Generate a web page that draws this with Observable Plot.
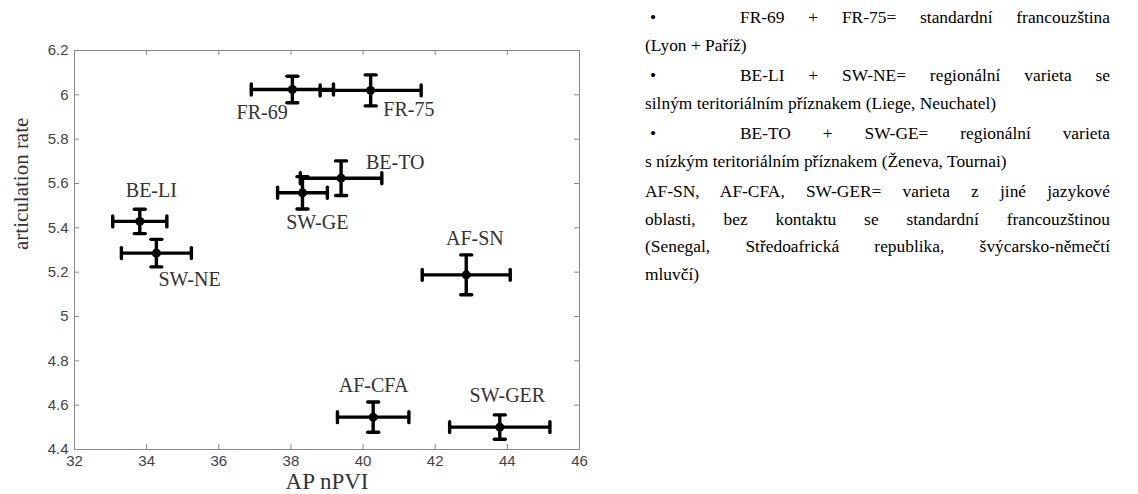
<!DOCTYPE html>
<html>
<head>
<meta charset="utf-8">
<script src="https://cdn.jsdelivr.net/npm/d3@7"></script>
<script src="https://cdn.jsdelivr.net/npm/@observablehq/plot@0.6"></script>
<style>
  html, body { margin: 0; padding: 0; background: #fff; }
  body { width: 1138px; height: 494px; overflow: hidden; position: relative; }
  #chart { position: absolute; left: 0; top: 0; }
  #notes { position: absolute; left: 645px; top: 4px; width: 465px;
           font-family: "Liberation Serif", "Times New Roman", serif; font-size: 17.4px; color: #000; }
  .p { margin-bottom: 3px; }
  .l { height: 27.5px; line-height: 27.5px; white-space: nowrap; }
  .j { text-align: justify; text-align-last: justify; white-space: normal; overflow: hidden; }
  .b { display: inline-block; width: 95px; text-align: left; padding-left: 5px; box-sizing: border-box; }
</style>
</head>
<body>
<div id="chart"></div>
<div id="notes"></div>
<script>
// ---- data ----
const groups   = ["FR-69", "FR-75", "BE-LI", "SW-NE", "SW-GE", "BE-TO", "AF-SN", "AF-CFA", "SW-GER"];
const nPVI     = [38.04, 40.21, 33.81, 34.27, 38.32, 39.39, 42.86, 40.28, 43.79];
const nPVIerr  = [1.14, 1.40, 0.75, 0.97, 0.69, 1.13, 1.22, 0.99, 1.39];
const rate     = [6.024, 6.020, 5.429, 5.286, 5.558, 5.624, 5.188, 4.546, 4.501];
const rateErr  = [0.060, 0.070, 0.055, 0.062, 0.073, 0.078, 0.090, 0.068, 0.055];
// label anchor points (data units)
const labelX   = [37.20, 41.27, 34.13, 35.19, 38.73, 40.89, 43.10, 40.29, 44.00];
const labelY   = [5.918, 5.934, 5.568, 5.166, 5.422, 5.696, 5.350, 4.689, 4.644];
const xTicks   = [32, 34, 36, 38, 40, 42, 44, 46];
const yTicks   = [4.4, 4.6, 4.8, 5.0, 5.2, 5.4, 5.6, 5.8, 6.0, 6.2];
const xLabel   = "AP nPVI";
const yLabel   = "articulation rate";

const notes = [
  [{t: "FR-69 + FR-75= standardní francouzština", bullet: true, just: true}, {t: "(Lyon + Paříž)"}],
  [{t: "BE-LI + SW-NE= regionální varieta se", bullet: true, just: true}, {t: "silným teritoriálním příznakem (Liege, Neuchatel)"}],
  [{t: "BE-TO + SW-GE= regionální varieta", bullet: true, just: true}, {t: "s nízkým teritoriálním příznakem (Ženeva, Tournai)"}],
  [{t: "AF-SN, AF-CFA, SW-GER= varieta z jiné jazykové", just: true},
   {t: "oblasti, bez kontaktu se standardní francouzštinou", just: true},
   {t: "(Senegal, Středoafrická republika, švýcarsko-němečtí", just: true},
   {t: "mluvčí)"}]
];

const data = groups.map((g, i) => ({
  g, x: nPVI[i], ex: nPVIerr[i], y: rate[i], ey: rateErr[i], lx: labelX[i], ly: labelY[i]
}));

const W = 600, H = 494, mL = 74, mR = 21, mT = 50, mB = 45;
const fw = W - mL - mR, fh = H - mT - mB;
const tickLen = 5;
const cap = { draw(ctx, l) { ctx.moveTo(0, 0); ctx.lineTo(0, -l); } };
const serif = "'Liberation Serif', 'Times New Roman', serif";
const barW = 3.4;

const chart = Plot.plot({
  width: W, height: H,
  marginLeft: mL, marginRight: mR, marginTop: mT, marginBottom: mB,
  style: { background: "#fff", overflow: "visible" },
  x: { domain: [32, 46] },
  y: { domain: [4.4, 6.2] },
  marks: [
    Plot.frame({ stroke: "#8a8a8a", strokeWidth: 1 }),
    Plot.tickX(xTicks, { x: d => d, insetTop: fh - tickLen, stroke: "#8a8a8a" }),
    Plot.tickX(xTicks, { x: d => d, insetBottom: fh - tickLen, stroke: "#8a8a8a" }),
    Plot.tickY(yTicks, { y: d => d, insetRight: fw - tickLen, stroke: "#8a8a8a" }),
    Plot.tickY(yTicks, { y: d => d, insetLeft: fw - tickLen, stroke: "#8a8a8a" }),
    Plot.axisX({ ticks: xTicks, tickSize: 0, tickPadding: 6, fontSize: 15,
      fontFamily: "'Liberation Sans', Arial, sans-serif", color: "#444", label: null,
      tickFormat: d => String(d) }),
    Plot.axisY({ ticks: yTicks, tickSize: 0, tickPadding: 6, fontSize: 15,
      fontFamily: "'Liberation Sans', Arial, sans-serif", color: "#444", label: null,
      tickFormat: d => String(+d.toFixed(1)) }),
    // error bars
    Plot.ruleY(data, { y: "y", x1: d => d.x - d.ex, x2: d => d.x + d.ex, stroke: "#000", strokeWidth: barW }),
    Plot.ruleX(data, { x: "x", y1: d => d.y - d.ey, y2: d => d.y + d.ey, stroke: "#000", strokeWidth: barW }),
    Plot.vector(data, { x: d => d.x - d.ex, y: "y", length: 11, rotate: 0, anchor: "middle", shape: cap, stroke: "#000", strokeWidth: barW }),
    Plot.vector(data, { x: d => d.x + d.ex, y: "y", length: 11, rotate: 0, anchor: "middle", shape: cap, stroke: "#000", strokeWidth: barW }),
    Plot.vector(data, { x: "x", y: d => d.y + d.ey, length: 11, rotate: 90, anchor: "middle", shape: cap, stroke: "#000", strokeWidth: barW }),
    Plot.vector(data, { x: "x", y: d => d.y - d.ey, length: 11, rotate: 90, anchor: "middle", shape: cap, stroke: "#000", strokeWidth: barW }),
    Plot.dot(data, { x: "x", y: "y", r: 4.5, fill: "#000", stroke: null }),
    // group labels
    Plot.text(data, { x: "lx", y: "ly", text: "g", fontSize: 20, fontFamily: serif, fill: "#333" }),
    // axis titles
    Plot.text([xLabel], { frameAnchor: "bottom", dy: 39, fontSize: 23, fontFamily: serif, fill: "#333" }),
    Plot.text([yLabel], { frameAnchor: "left", dx: -53, rotate: -90, fontSize: 21, fontFamily: serif, fill: "#333" })
  ]
});
document.getElementById("chart").appendChild(chart);

// side notes
const box = document.getElementById("notes");
for (const para of notes) {
  const p = document.createElement("div");
  p.className = "p";
  for (const line of para) {
    const d = document.createElement("div");
    d.className = "l" + (line.just ? " j" : "");
    if (line.bullet) {
      const b = document.createElement("span");
      b.className = "b";
      b.textContent = "•";
      d.appendChild(b);
    }
    d.appendChild(document.createTextNode(line.t));
    p.appendChild(d);
  }
  box.appendChild(p);
}
</script>
</body>
</html>
